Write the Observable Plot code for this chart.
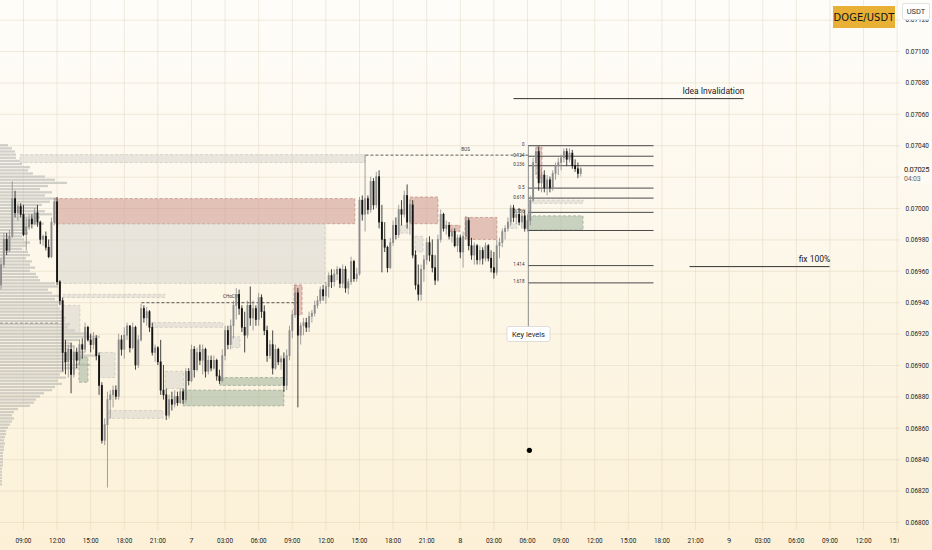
<!DOCTYPE html>
<html>
<head>
<meta charset="utf-8">
<script src="https://cdn.jsdelivr.net/npm/d3@7"></script>
<script src="https://cdn.jsdelivr.net/npm/@observablehq/plot@0.6"></script>
<style>
html,body{margin:0;padding:0;background:#fdf6e6;}
#wrap{position:relative;width:932px;height:550px;overflow:hidden;
  background:linear-gradient(to bottom,#fefdf9 0%,#fdf8ec 40%,#fcf1d7 100%);
  font-family:Roboto,"Liberation Sans",sans-serif;}
#wrap svg{position:absolute;left:0;top:0;}
#badge{position:absolute;left:833px;top:6px;width:62px;height:22px;background:#e8b035;color:#141414;
  font:11px "Liberation Sans Narrow","DejaVu Sans Condensed",Roboto,sans-serif;display:flex;align-items:center;justify-content:center;letter-spacing:0.1px;}
#cur{position:absolute;left:902px;top:3px;width:26px;height:15px;background:#fff;border:1px solid #e2e2e2;border-radius:2px;
  font:7.5px Roboto,sans-serif;color:#333;display:flex;align-items:center;justify-content:center;}
#plabel{position:absolute;left:901px;top:164px;width:31px;height:20px;background:#fdfbf4;
  font:7.5px Roboto,sans-serif;color:#222;line-height:9px;padding-left:3px;box-sizing:border-box;padding-top:1px;letter-spacing:-0.3px;}
#plabel span{color:#666;font-size:7px;letter-spacing:-0.2px;}
#corner{position:absolute;left:899px;top:531px;width:33px;height:19px;background:#fcf1d7;}
</style>
</head>
<body>
<div id="wrap">
  <div id="chart"></div>
  <div id="corner"></div>
  <div id="badge">DOGE/USDT</div>
  <div id="cur">USDT</div>
  <div id="plabel">0.07025<br><span>04:03</span></div>
</div>
<script>
// ---- 15-minute candles, DOGE/USDT ----
const firstCandle = "2023-10-06T07:00Z";
const candleMinutes = 15;
const open = [
.06951,.06964,.06980,.06973,.06982,.07006,.06997,.07001,.06996,.06983,
.06988,.06993,.06990,.06997,.06991,.06980,.06982,.06975,.06969,.06991,
.07004,.06953,.06941,.06908,.06902,.06910,.06894,.06908,.06903,.06913,
.06910,.06924,.06916,.06913,.06917,.06906,.06887,.06852,.06862,.06878,
.06881,.06884,.06880,.06916,.06910,.06919,.06925,.06911,.06924,.06900,
.06916,.06936,.06930,.06934,.06924,.06908,.06911,.06902,.06884,.06881,
.06868,.06878,.06875,.06880,.06876,.06883,.06878,.06896,.06890,.06910,
.06897,.06908,.06903,.06910,.06896,.06903,.06898,.06903,.06893,.06890,
.06906,.06922,.06913,.06925,.06938,.06945,.06936,.06924,.06919,.06938,
.06930,.06936,.06929,.06943,.06934,.06922,.06906,.06913,.06898,.06910,
.06902,.06904,.06887,.06906,.06922,.06932,.06946,.06919,.06925,.06927,
.06924,.06931,.06933,.06938,.06941,.06948,.06944,.06950,.06957,.06953,
.06958,.06961,.06952,.06961,.06949,.06953,.06966,.06955,.06958,.07005,
.06996,.07006,.06999,.07017,.07002,.07020,.06991,.06980,.06975,.06962,
.06978,.06989,.06983,.06999,.06996,.07008,.06991,.07002,.06970,.06951,
.06945,.06961,.06967,.06978,.06970,.06962,.06954,.06980,.06996,.06987,
.06989,.06982,.06985,.06976,.06981,.06972,.06982,.06992,.06976,.06970,
.06976,.06967,.06973,.06968,.06976,.06968,.06962,.06959,.06976,.06978,
.06985,.06987,.06991,.07000,.06994,.06996,.06991,.06995,.06987,.06992,
.07005,.07029,.07036,.07016,.07021,.07013,.07018,.07013,.07022,.07027,
.07029,.07032,.07036,.07031,.07035,.07027,.07025,.07022];
const high = [
.06968,.06984,.06984,.06986,.07017,.07011,.07003,.07003,.07002,.06994,
.06996,.06996,.07000,.07002,.06992,.06983,.06985,.06980,.06994,.07006,
.07007,.06954,.06943,.06916,.06913,.06914,.06912,.06911,.06916,.06917,
.06927,.06925,.06920,.06921,.06919,.06908,.06889,.06866,.06883,.06884,
.06887,.06887,.06920,.06919,.06924,.06927,.06925,.06927,.06925,.06919,
.06939,.06938,.06937,.06935,.06927,.06913,.06912,.06916,.06900,.06885,
.06881,.06883,.06884,.06883,.06885,.06885,.06898,.06898,.06913,.06912,
.06911,.06913,.06913,.06911,.06906,.06906,.06906,.06904,.06897,.06910,
.06925,.06925,.06929,.06941,.06949,.06948,.06938,.06934,.06941,.06950,
.06941,.06938,.06946,.06945,.06938,.06925,.06916,.06922,.06913,.06911,
.06906,.06908,.06910,.06925,.06935,.06951,.06949,.06927,.06930,.06930,
.06934,.06935,.06941,.06944,.06950,.06951,.06953,.06959,.06961,.06961,
.06963,.06962,.06964,.06963,.06955,.06969,.06967,.06962,.07007,.07008,
.07034,.07008,.07020,.07019,.07023,.07024,.07002,.06991,.06976,.06981,
.06992,.06994,.07002,.07005,.07011,.07015,.07005,.07005,.06973,.06964,
.06964,.06970,.06981,.06982,.06980,.06970,.06983,.06999,.06997,.06992,
.06991,.06987,.06987,.06983,.06983,.06985,.06995,.06994,.06981,.06978,
.06977,.06976,.06975,.06978,.06977,.06973,.06972,.06980,.06981,.06987,
.06989,.06994,.07002,.07002,.06999,.07000,.06997,.06999,.06996,.07008,
.07032,.07039,.07039,.07025,.07024,.07021,.07020,.07024,.07029,.07032,
.07034,.07038,.07038,.07038,.07037,.07031,.07029,.07026];
const low = [
.06948,.06962,.06970,.06972,.06981,.06994,.06992,.06994,.06982,.06973,
.06986,.06987,.06989,.06988,.06977,.06976,.06973,.06968,.06968,.06989,
.06951,.06938,.06896,.06894,.06892,.06882,.06892,.06898,.06900,.06904,
.06908,.06915,.06908,.06910,.06903,.06881,.06850,.06849,.06822,.06866,
.06873,.06878,.06878,.06906,.06904,.06916,.06908,.06910,.06897,.06898,
.06915,.06927,.06925,.06921,.06906,.06902,.06900,.06881,.06878,.06865,
.06866,.06871,.06873,.06874,.06875,.06875,.06876,.06887,.06889,.06892,
.06896,.06900,.06894,.06892,.06894,.06896,.06897,.06890,.06888,.06889,
.06903,.06910,.06910,.06917,.06929,.06932,.06921,.06908,.06917,.06925,
.06922,.06925,.06925,.06930,.06919,.06902,.06904,.06894,.06897,.06900,
.06897,.06883,.06884,.06903,.06917,.06930,.06873,.06913,.06919,.06921,
.06921,.06927,.06931,.06936,.06939,.06941,.06939,.06943,.06949,.06950,
.06954,.06949,.06949,.06946,.06945,.06951,.06953,.06953,.06957,.06992,
.06985,.06996,.06997,.06999,.07000,.06987,.06959,.06972,.06959,.06961,
.06976,.06980,.06981,.06989,.06994,.06987,.06983,.06968,.06948,.06941,
.06941,.06953,.06964,.06966,.06959,.06951,.06953,.06978,.06985,.06983,
.06980,.06978,.06975,.06972,.06968,.06962,.06980,.06973,.06967,.06964,
.06964,.06964,.06964,.06966,.06966,.06959,.06955,.06957,.06968,.06975,
.06980,.06985,.06989,.06991,.06990,.06989,.06987,.06985,.06985,.06989,
.07004,.07021,.07011,.07010,.07010,.07008,.07010,.07011,.07018,.07021,
.07024,.07029,.07027,.07029,.07025,.07023,.07019,.07020];
const close = [
.06964,.06980,.06973,.06982,.07006,.06997,.07001,.06996,.06983,.06988,
.06993,.06990,.06997,.06991,.06980,.06982,.06975,.06969,.06991,.07004,
.06953,.06941,.06908,.06902,.06910,.06894,.06908,.06903,.06913,.06910,
.06924,.06916,.06913,.06917,.06906,.06887,.06852,.06862,.06878,.06881,
.06884,.06880,.06916,.06910,.06919,.06925,.06911,.06924,.06900,.06916,
.06936,.06930,.06934,.06924,.06908,.06911,.06902,.06884,.06881,.06868,
.06878,.06875,.06880,.06876,.06883,.06878,.06896,.06890,.06910,.06897,
.06908,.06903,.06910,.06896,.06903,.06898,.06903,.06893,.06890,.06906,
.06922,.06913,.06925,.06938,.06945,.06936,.06924,.06919,.06938,.06930,
.06936,.06929,.06943,.06934,.06922,.06906,.06913,.06898,.06910,.06902,
.06904,.06887,.06906,.06922,.06932,.06946,.06919,.06925,.06927,.06924,
.06931,.06933,.06938,.06941,.06948,.06944,.06950,.06957,.06953,.06958,
.06961,.06952,.06961,.06949,.06953,.06966,.06955,.06958,.07005,.06996,
.07006,.06999,.07017,.07002,.07020,.06991,.06980,.06975,.06962,.06978,
.06989,.06983,.06999,.06996,.07008,.06991,.07002,.06970,.06951,.06945,
.06961,.06967,.06978,.06970,.06962,.06954,.06980,.06996,.06987,.06989,
.06982,.06985,.06976,.06981,.06972,.06982,.06992,.06976,.06970,.06976,
.06967,.06973,.06968,.06976,.06968,.06962,.06959,.06976,.06978,.06985,
.06987,.06991,.07000,.06994,.06996,.06991,.06995,.06987,.06992,.07005,
.07029,.07036,.07016,.07021,.07013,.07018,.07013,.07022,.07027,.07029,
.07032,.07036,.07031,.07035,.07027,.07025,.07022,.07025];

// ---- volume profile (left), rows every 0.00002 from 0.07040 down ----
const profileTop = 0.07040;
const profileStep = 0.00002;
const profileVolume = [
8,12,15,16,16,20,22,30,28,33, 45,55,67,48,40,52,45,57,50,42,
38,45,52,40,36,44,30,26,28,22, 24,30,26,22,28,30,26,32,30,35,
30,36,38,40,55,58,48,52,60,55, 62,58,60,64,62,66,65,70,68,75,
88,100,80,72,75,70,85,97,80,66, 90,78,64,60,66,58,62,55,52,44,
40,36,34,30,18,14,12,14,12,10, 8,6,6,5,4,5,4,4,3,3,
3,3,3,2,2,2,2,2,2];
const pocPrice = 0.06927, pocEnd = "2023-10-06T12:18Z";

// ---- zones (order blocks / FVGs) ----
const zoneKind  = ["gray","red","gray","gray","gray","green","gray","gray","gray","green","green","gray","gray","red","gray","red","gray","red","red","gray","gray","green","red"];
const zoneStart = ["2023-10-06T08:45Z","2023-10-06T11:50Z","2023-10-06T12:07Z","2023-10-06T12:34Z","2023-10-06T12:34Z","2023-10-06T14:00Z","2023-10-06T15:52Z","2023-10-06T16:40Z","2023-10-06T21:41Z","2023-10-06T23:18Z","2023-10-07T02:35Z","2023-10-06T20:36Z","2023-10-07T03:40Z","2023-10-07T09:12Z","2023-10-07T18:40Z","2023-10-07T19:33Z","2023-10-07T20:00Z","2023-10-07T23:07Z","2023-10-08T00:28Z","2023-10-08T04:28Z","2023-10-08T06:26Z","2023-10-08T06:05Z","2023-10-08T06:53Z"];
const zoneEnd   = ["2023-10-07T15:32Z","2023-10-07T14:38Z","2023-10-07T11:58Z","2023-10-06T21:40Z","2023-10-06T14:05Z","2023-10-06T14:48Z","2023-10-06T17:13Z","2023-10-06T21:30Z","2023-10-06T23:20Z","2023-10-07T08:18Z","2023-10-07T08:18Z","2023-10-07T02:51Z","2023-10-07T04:22Z","2023-10-07T09:55Z","2023-10-07T19:22Z","2023-10-07T22:03Z","2023-10-07T20:43Z","2023-10-08T00:01Z","2023-10-08T03:19Z","2023-10-08T05:06Z","2023-10-08T11:00Z","2023-10-08T11:00Z","2023-10-08T07:20Z"];
const zoneHigh  = [.07034,.07006,.06990,.06945,.06938,.06905,.06908,.06871,.06896,.06884,.06892,.06927,.06918,.06951,.06989,.07007,.06982,.06989,.06994,.06990,.07005,.06995,.07039];
const zoneLow   = [.07029,.06990,.06952,.06943,.06920,.06889,.06892,.06866,.06885,.06874,.06887,.06924,.06911,.06932,.06984,.06990,.06972,.06985,.06980,.06987,.07003,.06986,.07019];

// ---- structure lines ----
const structName  = ["BOS","CHoCH"];
const structStart = ["2023-10-07T15:32Z","2023-10-06T19:32Z"];
const structEnd   = ["2023-10-08T06:05Z","2023-10-07T09:28Z"];
const structPrice = [.07034,.06940];
const structLabelAt = ["2023-10-08T00:28Z","2023-10-07T03:29Z"];

// ---- fibonacci key levels ----
const fibLevels = [0,0.124,0.236,0.5,0.618,0.786,1,1.414,1.618];
const fibLabels = ["0","0.124","0.236","0.5","0.618","0.786","","1.414","1.618"];
const fibHigh = 0.07040, fibLow = 0.06986;
const fibStart = "2023-10-08T06:05Z", fibEnd = "2023-10-08T17:15Z";
const fibAnchorBottom = 0.06924;
const keyLevelsPrice = 0.06920;

// ---- target lines ----
const targetName = ["Idea Invalidation","fix 100%"];
const targetStart = ["2023-10-08T04:45Z","2023-10-08T20:28Z"];
const targetEnd = ["2023-10-09T01:17Z","2023-10-09T08:58Z"];
const targetPrice = [.07070,.06963];
const targetLabelAt = ["2023-10-08T22:36Z","2023-10-09T07:37Z"];

const markerTime = "2023-10-08T06:10Z", markerPrice = 0.06846;
const lastPrice = 0.07025;

// ---- axes ----
const xDomain = [new Date("2023-10-06T06:57Z"), new Date("2023-10-09T15:18Z")];
const yDomain = [0.067949, 0.071325];
const xTicks = d3.utcHour.every(3).range(xDomain[0], xDomain[1]);
const yTicks = d3.range(340, 357).map(k => +(k * 0.0002).toFixed(4));
// the tick under the live-price tag is hidden, as in the reference
const yTickLabels = yTicks.filter(v => Math.abs(v - lastPrice) > 0.0001);
const fmtX = d => d.getUTCHours() === 0 ? String(d.getUTCDate()) : d3.utcFormat("%H:%M")(d);

// ---- build tables ----
const t0 = Date.parse(firstCandle);
const candles = open.map((o, i) => ({
  t: new Date(t0 + i * candleMinutes * 60000),
  open: o, high: high[i], low: low[i], close: close[i],
  up: close[i] >= o
}));
const msPerVolume = candleMinutes * 60000 / 2.8; // one volume unit ~ one pixel
const profile = profileVolume.map((v, k) => {
  const p = profileTop - k * profileStep;
  return {x1: xDomain[0], x2: new Date(+xDomain[0] + v * msPerVolume), y1: p - 0.0000072, y2: p + 0.0000072};
});
const zoneFill = {red: "#cc938a", gray: "#d3d1cb", green: "#a6b8a2"};
const zoneOpacity = {red: 0.55, gray: 0.5, green: 0.6};
const zoneStroke = {red: "#c08a80", gray: "#c9c5bb", green: "#93a68f"};
const zones = zoneKind.map((k, i) => ({kind: k, x1: new Date(zoneStart[i]), x2: new Date(zoneEnd[i]), y1: zoneLow[i], y2: zoneHigh[i]}));
const structs = structName.map((n, i) => ({name: n, x1: new Date(structStart[i]), x2: new Date(structEnd[i]), y: structPrice[i], lx: new Date(structLabelAt[i])}));
const fibs = fibLevels.map((l, i) => ({label: fibLabels[i], y: fibHigh - l * (fibHigh - fibLow), x1: new Date(fibStart), x2: new Date(fibEnd)}));
const targets = targetName.map((n, i) => ({name: n, x1: new Date(targetStart[i]), x2: new Date(targetEnd[i]), y: targetPrice[i], lx: new Date(targetLabelAt[i])}));

const upColor = "#8c8c8c", downColor = "#151515";

const plot = Plot.plot({
  width: 932, height: 550,
  marginLeft: 0, marginRight: 32, marginTop: 0, marginBottom: 20,
  x: {type: "utc", domain: xDomain, axis: null},
  y: {domain: yDomain, axis: null},
  style: {background: "transparent", fontFamily: "Roboto, 'Liberation Sans', sans-serif", fontSize: "8px", color: "#2a2a2a", overflow: "visible"},
  marks: [
    Plot.gridY(yTicks, {stroke: "#d6c9ab", strokeOpacity: 0.35}),
    Plot.gridX(xTicks, {stroke: "#d6c9ab", strokeOpacity: 0.35}),
    Plot.rect(profile, {x1: "x1", x2: "x2", y1: "y1", y2: "y2", fill: "#b9b8b3", fillOpacity: 0.65}),
    Plot.ruleY([pocPrice], {x1: xDomain[0], x2: new Date(pocEnd), stroke: "#777", strokeDasharray: "3,2", strokeWidth: 0.7}),
    Plot.rect(zones, {x1: "x1", x2: "x2", y1: "y1", y2: "y2",
      fill: d => zoneFill[d.kind], fillOpacity: d => zoneOpacity[d.kind]}),
    Plot.rect(zones, {x1: "x1", x2: "x2", y1: "y1", y2: "y2", fill: "none",
      stroke: d => zoneStroke[d.kind], strokeWidth: 0.7, strokeDasharray: "3,2"}),
    Plot.link(structs, {x1: "x1", x2: "x2", y1: "y", y2: "y", stroke: "#333", strokeWidth: 0.8, strokeDasharray: "3,2"}),
    Plot.text(structs, {x: "lx", y: "y", text: "name", dy: -6, fontSize: 4.5, fill: "#333"}),
    Plot.ruleX([new Date(fibStart)], {y1: fibAnchorBottom, y2: fibHigh, stroke: "#9a9a9a", strokeWidth: 1}),
    Plot.link(fibs, {x1: "x1", x2: "x2", y1: "y", y2: "y", stroke: "#4a4a4a", strokeWidth: 1}),
    Plot.text(fibs, {x: "x1", y: "y", text: "label", dx: -4, dy: -1, textAnchor: "end", fontSize: 4.5, fill: "#333"}),
    Plot.link(targets, {x1: "x1", x2: "x2", y1: "y", y2: "y", stroke: "#333", strokeWidth: 1}),
    Plot.text(targets, {x: "lx", y: "y", text: "name", dy: -7, fontSize: 8.5, fill: "#222"}),
    Plot.ruleX(candles, {x: "t", y1: "low", y2: "high", stroke: d => d.up ? upColor : downColor, strokeWidth: 0.8}),
    Plot.ruleX(candles, {x: "t", y1: d => Math.min(d.open, d.close) - 0.000002, y2: d => Math.max(d.open, d.close) + 0.000002,
      stroke: d => d.up ? upColor : downColor, strokeWidth: 1.9}),
    Plot.dot([{t: new Date(markerTime), p: markerPrice}], {x: "t", y: "p", r: 2.6, fill: "#000"}),
    Plot.text([{t: new Date(fibStart), p: keyLevelsPrice}], {x: "t", y: "p", text: () => "Key levels", fontSize: 7.5, fill: "#222"}),
    Plot.axisY(yTickLabels, {anchor: "right", tickSize: 0, tickPadding: 3, tickFormat: d3.format(".5f"), label: null, fontSize: 7.2, fill: "#222"}),
    Plot.axisX(xTicks, {anchor: "bottom", tickSize: 0, tickPadding: 7, tickFormat: fmtX, label: null, fontSize: 7.5, fill: "#222"})
  ]
});
document.getElementById("chart").appendChild(plot);

// condensed tick labels like the reference's narrow font
plot.querySelectorAll("text").forEach(t => {
  const s = t.textContent;
  if (/^0\.0\d{4}$/.test(s)) { t.setAttribute("textLength", 23.5); t.setAttribute("lengthAdjust", "spacingAndGlyphs"); t.setAttribute("dx", 2); }
  else if (/^\d\d:\d\d$/.test(s)) { t.setAttribute("textLength", 16); t.setAttribute("lengthAdjust", "spacingAndGlyphs"); }
});

// white box behind "Key levels"
plot.querySelectorAll("text").forEach(t => {
  if (t.textContent === "Key levels") {
    const b = t.getBBox();
    const r = document.createElementNS("http://www.w3.org/2000/svg", "rect");
    r.setAttribute("x", b.x - 5); r.setAttribute("y", b.y - 3);
    r.setAttribute("width", b.width + 10); r.setAttribute("height", b.height + 6);
    r.setAttribute("rx", 2); r.setAttribute("fill", "#fff"); r.setAttribute("stroke", "#d0d0d0"); r.setAttribute("stroke-width", 0.7);
    if (t.getAttribute("transform")) r.setAttribute("transform", t.getAttribute("transform"));
    t.parentNode.insertBefore(r, t);
  }
});
</script>
</body>
</html>
